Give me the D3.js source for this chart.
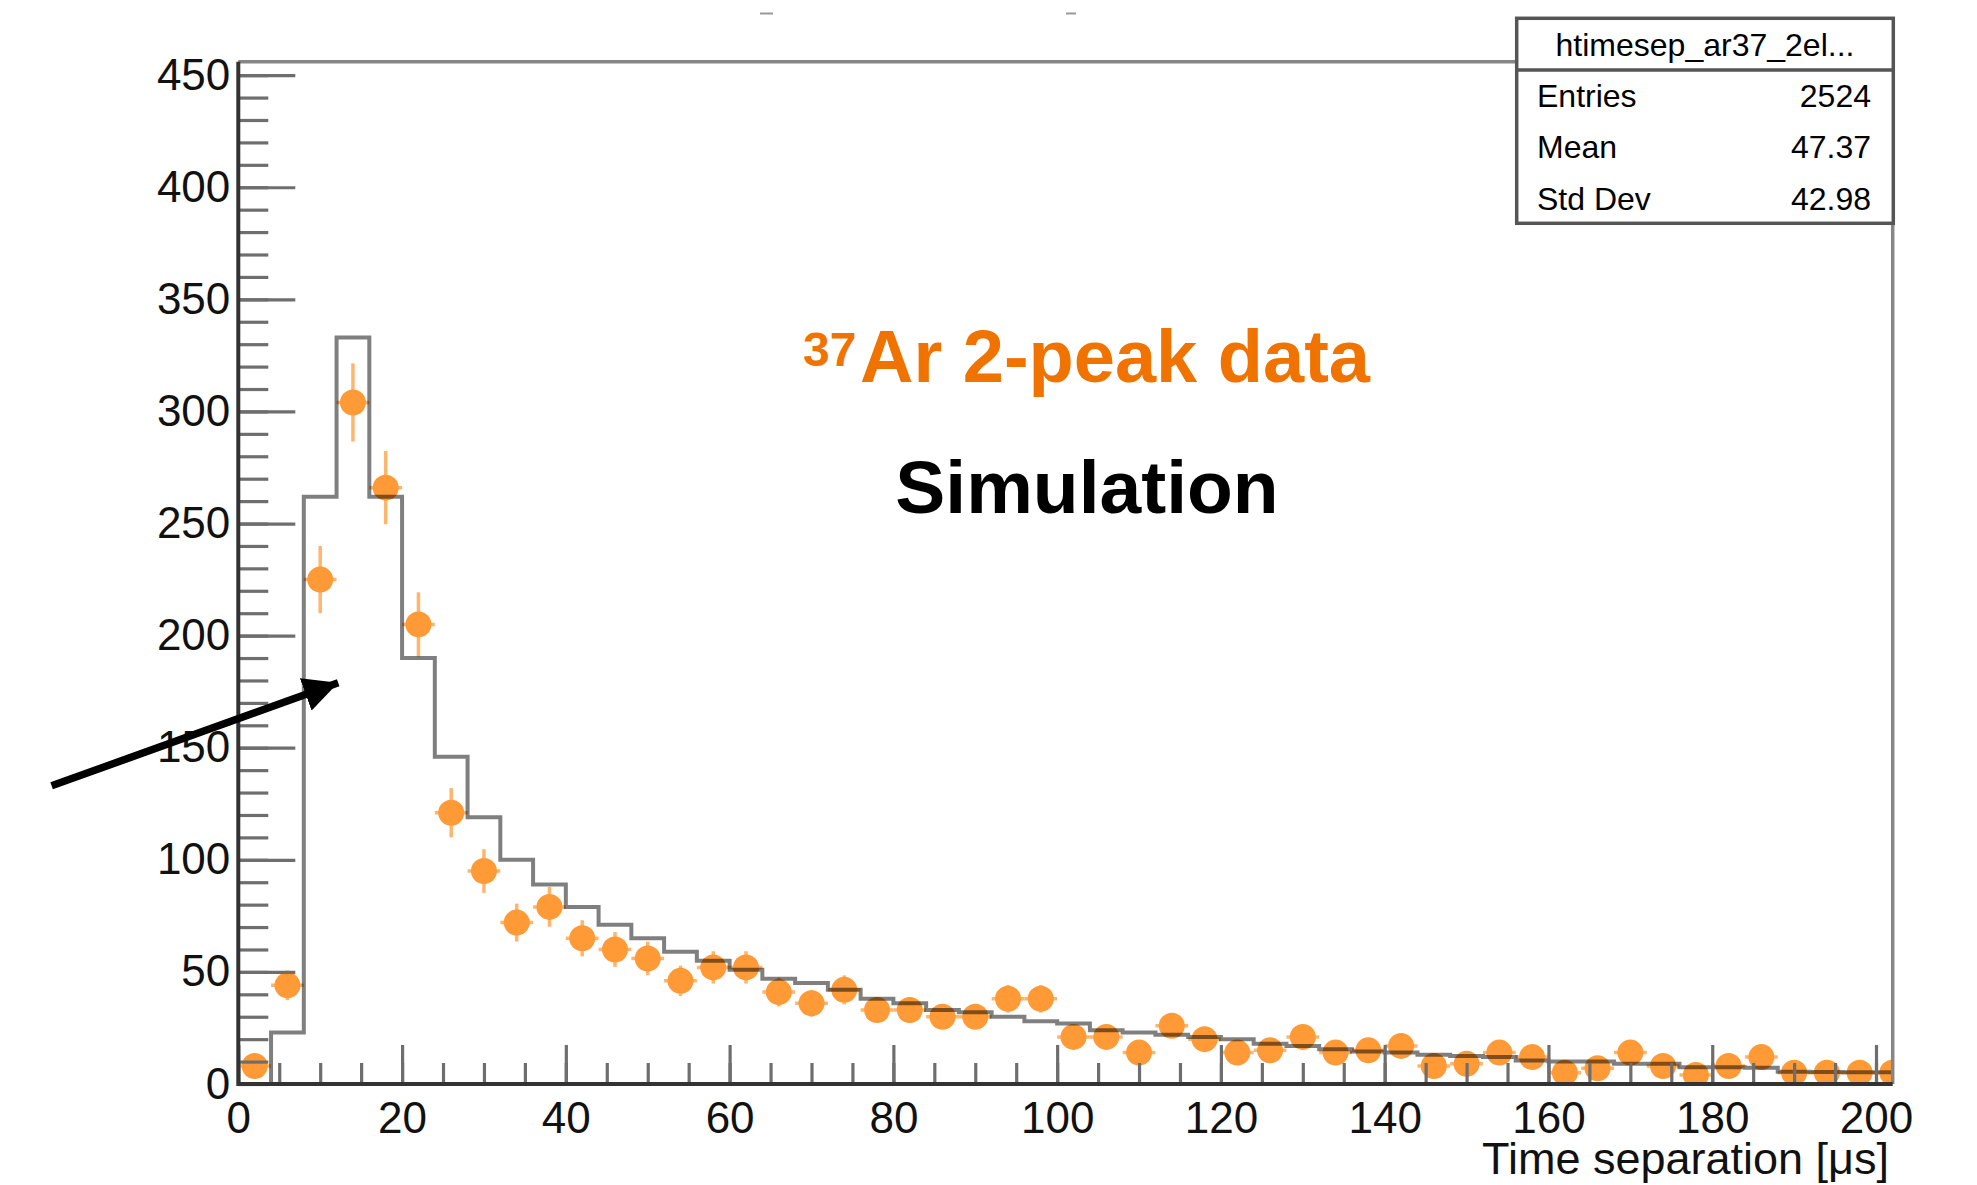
<!DOCTYPE html>
<html lang="en">
<head>
    <meta charset="UTF-8"/>
    <title>timesep</title>
    <script src="https://d3js.org/d3.v7.min.js"></script>
    <style type="text/css">
        body {
            margin: 0;
            background: white;
        }
        text {
            font-family: "Liberation Sans", Arial, sans-serif;
        }
    </style>
</head>
<body>

<svg id="main"></svg>

<script>

// bin centres of the data points (us), 4 us bins
var dataCenters = [2, 6, 10, 14, 18, 22, 26, 30, 34, 38, 42, 46, 50, 54, 58, 62, 66, 70, 74, 78,
    82, 86, 90, 94, 98, 102, 106, 110, 114, 118, 122, 126, 130, 134, 138, 142, 146, 150, 154, 158,
    162, 166, 170, 174, 178, 182, 186, 190, 194, 198, 202]

// 37Ar 2-peak data counts
var dataCounts = [8, 44, 225, 304, 266, 205, 121, 95, 72, 79, 65, 60, 56, 46, 52, 52, 41, 36, 42, 33,
    33, 30, 30, 38, 38, 21, 21, 14, 26, 20, 14, 15, 21, 14, 15, 17, 8, 9, 14, 12,
    5, 7, 14, 8, 4, 8, 12, 5, 5, 5, 5]

// simulation histogram, lower bin edges and contents
var simEdges = [0, 4, 8, 12, 16, 20, 24, 28, 32, 36, 40, 44, 48, 52, 56, 60, 64, 68, 72, 76,
    80, 84, 88, 92, 96, 100, 104, 108, 112, 116, 120, 124, 128, 132, 136, 140, 144, 148, 152, 156,
    160, 164, 168, 172, 176, 180, 184, 188, 192, 196, 200]
var simCounts = [0, 23, 262, 333, 262, 190, 146, 119, 100, 89, 79, 71, 65, 59, 55, 51, 47, 45, 42, 38,
    36, 33, 32, 30, 28, 27, 24, 23, 22, 21, 20, 18, 17, 15.5, 14.5, 14, 13, 12.5, 12, 10.5,
    10, 10, 9, 9, 7.5, 7.5, 7.2, 5.5, 5.4, 5.2, 5.2]
var binWidth = 4

var xTicks = [0, 20, 40, 60, 80, 100, 120, 140, 160, 180, 200]
var yTicks = [0, 50, 100, 150, 200, 250, 300, 350, 400, 450]

// stat box
var statTitle = "htimesep_ar37_2el..."
var statNames = ["Entries", "Mean", "Std Dev"]
var statValues = ["2524", "47.37", "42.98"]

// arrow annotation, in data coordinates [x, y]
var arrowFrom = [-22.8, 133]
var arrowTo = [12.2, 179]

var W = 1977,
    H = 1185,
    padL = 238.3,
    padR = 1892.7,
    padT = 61.7,
    padB = 1084

var svg = d3.select("#main")
    .attr("width", W)
    .attr("height", H)

svg.append("rect").attr("width", W).attr("height", H).attr("fill", "white")

var x = d3.scaleLinear().domain([0, 202.04]).range([padL, padR])
var y = d3.scaleLinear().domain([0, 456]).range([padB, padT])

svg.append("clipPath").attr("id", "plotclip")
  .append("rect")
    .attr("x", padL).attr("y", padT)
    .attr("width", padR - padL).attr("height", padB - padT)

var plot = svg.append("g").attr("clip-path", "url(#plotclip)")

// error bars
plot.selectAll(".ey")
  .data(dataCenters)
  .enter()
  .append("line")
    .attr("x1", function(d) { return x(d) })
    .attr("x2", function(d) { return x(d) })
    .attr("y1", function(d, i) { return y(dataCounts[i] + Math.sqrt(dataCounts[i])) })
    .attr("y2", function(d, i) { return y(Math.max(0, dataCounts[i] - Math.sqrt(dataCounts[i]))) })
    .attr("stroke", "#ffb56e")
    .attr("stroke-width", 3.5)

plot.selectAll(".ex")
  .data(dataCenters)
  .enter()
  .append("line")
    .attr("x1", function(d) { return x(d - binWidth / 2) })
    .attr("x2", function(d) { return x(d + binWidth / 2) })
    .attr("y1", function(d, i) { return y(dataCounts[i]) })
    .attr("y2", function(d, i) { return y(dataCounts[i]) })
    .attr("stroke", "#ffb56e")
    .attr("stroke-width", 3.5)

// markers
plot.selectAll(".pt")
  .data(dataCenters)
  .enter()
  .append("circle")
    .attr("cx", function(d) { return x(d) })
    .attr("cy", function(d, i) { return y(dataCounts[i]) })
    .attr("r", 13)
    .attr("fill", "#ff9a36")

// simulation step line
var steps = [[simEdges[0], 0]]
simEdges.forEach(function(e, i) {
    steps.push([e, simCounts[i]])
    steps.push([e + binWidth, simCounts[i]])
})
plot.append("path")
    .datum(steps)
    .attr("d", d3.line().x(function(d) { return x(d[0]) }).y(function(d) { return y(d[1]) }))
    .attr("fill", "none")
    .attr("stroke", "#000")
    .attr("stroke-opacity", 0.5)
    .attr("stroke-width", 4)

// frame top and right
svg.append("path")
    .attr("d", "M" + padL + "," + padT + "H" + padR + "V" + padB)
    .attr("fill", "none")
    .attr("stroke", "#868686")
    .attr("stroke-width", 3.5)

// y axis, ticks pointing inside
svg.append("g")
    .attr("transform", "translate(" + padL + ",0)")
    .call(d3.axisLeft(y).tickValues(d3.range(0, 457, 10)).tickSize(-30).tickFormat(""))
svg.append("g")
    .attr("transform", "translate(" + padL + ",0)")
    .call(d3.axisLeft(y).tickValues(yTicks).tickSizeInner(-57).tickSizeOuter(0).tickPadding(8))

// x axis
svg.append("g")
    .attr("transform", "translate(0," + padB + ")")
    .call(d3.axisBottom(x).tickValues(d3.range(0, 202, 5)).tickSize(-21).tickFormat(""))
svg.append("g")
    .attr("transform", "translate(0," + padB + ")")
    .call(d3.axisBottom(x).tickValues(xTicks).tickSizeInner(-39).tickSizeOuter(0).tickPadding(18))

svg.selectAll(".tick line").attr("stroke", "#6e6e6e").attr("stroke-width", 3.2)
svg.selectAll(".domain").attr("stroke", "none")
svg.selectAll(".tick text").attr("fill", "#111").style("font-size", "44px")

// axis lines on top
svg.append("path")
    .attr("d", "M" + padL + "," + padT + "V" + padB + "H" + padR)
    .attr("fill", "none")
    .attr("stroke", "#333")
    .attr("stroke-width", 4)

svg.append("text")
    .attr("x", 1889)
    .attr("y", 1174)
    .attr("text-anchor", "end")
    .attr("fill", "#111")
    .style("font-size", "45px")
    .text("Time separation [\u03bcs]")

// stat box
var box = svg.append("g")
box.append("rect")
    .attr("x", 1516.7).attr("y", 18.3)
    .attr("width", 376.6).attr("height", 205)
    .attr("fill", "white")
    .attr("stroke", "#555")
    .attr("stroke-width", 3.5)
box.append("line")
    .attr("x1", 1516.7).attr("x2", 1893.3)
    .attr("y1", 70).attr("y2", 70)
    .attr("stroke", "#555")
    .attr("stroke-width", 3.5)
box.append("text")
    .attr("x", 1705).attr("y", 56)
    .attr("text-anchor", "middle")
    .style("font-size", "32px")
    .text(statTitle)
box.selectAll(".sn")
  .data(statNames)
  .enter()
  .append("text")
    .attr("x", 1537)
    .attr("y", function(d, i) { return 106.7 + i * 51.7 })
    .style("font-size", "32px")
    .text(function(d) { return d })
box.selectAll(".sv")
  .data(statValues)
  .enter()
  .append("text")
    .attr("x", 1871)
    .attr("y", function(d, i) { return 106.7 + i * 51.7 })
    .attr("text-anchor", "end")
    .style("font-size", "32px")
    .text(function(d) { return d })

// labels in the plot
var lab = svg.append("text")
    .attr("x", 860)
    .attr("y", 382)
    .attr("fill", "#f07300")
    .style("font-size", "74px")
    .style("font-weight", "bold")
lab.append("tspan")
    .attr("x", 803)
    .attr("dy", -16)
    .style("font-size", "48px")
    .text("37")
lab.append("tspan")
    .attr("x", 860)
    .attr("dy", 16)
    .text("Ar 2-peak data")

svg.append("text")
    .attr("x", 1087)
    .attr("y", 513)
    .attr("text-anchor", "middle")
    .attr("fill", "#000")
    .style("font-size", "75px")
    .style("font-weight", "bold")
    .text("Simulation")

// arrow
svg.append("defs").append("marker")
    .attr("id", "head")
    .attr("viewBox", "0 0 10 10")
    .attr("refX", 10).attr("refY", 5)
    .attr("markerWidth", 4.6).attr("markerHeight", 4.6)
    .attr("markerUnits", "strokeWidth")
    .attr("orient", "auto")
  .append("path")
    .attr("d", "M0,0L10,5L0,10Z")
    .attr("fill", "#000")
svg.append("line")
    .attr("x1", x(arrowFrom[0])).attr("y1", y(arrowFrom[1]))
    .attr("x2", x(arrowTo[0])).attr("y2", y(arrowTo[1]))
    .attr("stroke", "#000")
    .attr("stroke-width", 7.5)
    .attr("marker-end", "url(#head)")

// leftover bits of a cut title at the very top
svg.selectAll(".dash")
  .data([[760, 13], [1066, 10]])
  .enter()
  .append("line")
    .attr("x1", function(d) { return d[0] })
    .attr("x2", function(d) { return d[0] + d[1] })
    .attr("y1", 13.5).attr("y2", 13.5)
    .attr("stroke", "#999")
    .attr("stroke-width", 2)

</script>
</body>
</html>
